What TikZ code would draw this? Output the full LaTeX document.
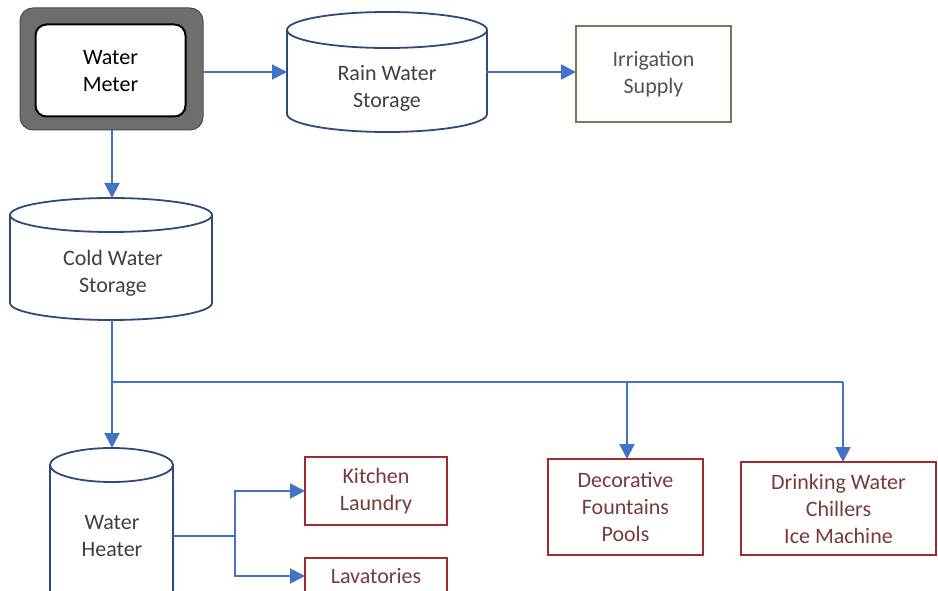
\documentclass[tikz,border=0pt]{standalone}
\usepackage{fontspec}
\setmainfont{Carlito}
\usetikzlibrary{arrows.meta}
\definecolor{flow}{HTML}{4472C4}
\definecolor{tankc}{HTML}{2E4A7A}
\definecolor{redb}{HTML}{9B2D30}
\definecolor{redt}{HTML}{7A3A3A}
\definecolor{greenb}{HTML}{6B7F4F}
\definecolor{txt}{HTML}{404040}
\tikzset{
  lbl/.style={align=center, font=\fontsize{22}{27}\selectfont, inner sep=0pt},
  tank/.style={shape=rectangle, inner sep=0pt, outer sep=0pt},
  tankline/.style={draw=tankc, line width=1.8pt},
  redbox/.style={draw=redb, line width=2.2pt, fill=white, inner sep=0pt, outer sep=0pt, align=center,
     font=\fontsize{22}{27}\selectfont, text=redt},
  conn/.style={draw=flow, line width=2pt},
  arr/.style={conn, -{Triangle[length=15pt,width=15pt]}}
}
\newcommand\drawtank[3]{%
  \draw[tankline,fill=white] (#1.north) ellipse [x radius=#2pt, y radius=#3pt];
  \draw[tankline] (#1.north west) -- (#1.south west) arc[start angle=180,end angle=360,x radius=#2pt,y radius=#3pt] -- (#1.north east);
}
\begin{document}
\begin{tikzpicture}[x=1pt,y=-1pt]
\clip (0,0) rectangle (938,591);
\fill[white] (0,0) rectangle (938,591);

% Water meter
\node[draw=black!70, fill=black!57, rounded corners=13pt, line width=1pt,
      minimum width=183pt, minimum height=122pt, inner sep=0pt, outer sep=0pt] (meter) at (111.5,69) {};
\node[draw=black, fill=white, rounded corners=11pt, line width=2pt,
      minimum width=150pt, minimum height=92pt, inner sep=0pt] (meterin) at (110.5,70.5) {};
\node[lbl, text=black] (meterlbl) at (110.5,71) {Water\\Meter};

% Rain water storage
\node[tank, minimum width=200pt, minimum height=84pt] (rain) at (387,72) {};
\drawtank{rain}{100}{18}
\node[lbl, text=txt] (rainlbl) at (387,88) {Rain Water\\Storage};

% Irrigation supply
\node[draw=greenb, line width=2pt, minimum width=155pt, minimum height=96pt, inner sep=0pt, outer sep=0pt] (irr) at (653.5,74) {};
\node[lbl, text=txt!90] (irrlbl) at (653.5,74) {Irrigation\\Supply};

% Cold water storage
\node[tank, minimum width=202pt, minimum height=88pt] (cold) at (111,259) {};
\drawtank{cold}{101}{17}
\node[lbl, text=txt] (coldlbl) at (113,273) {Cold Water\\Storage};

% Water heater
\node[tank, minimum width=123pt, minimum height=145pt] (heater) at (111.5,537.5) {};
\drawtank{heater}{61.5}{17}
\node[lbl, text=txt] (heaterlbl) at (112,536) {Water\\Heater};

% Consumers
\node[redbox, minimum width=142pt, minimum height=68pt] (kitchen) at (376,491) {Kitchen\\Laundry};
\node[redbox, minimum width=142pt, minimum height=36pt] (lav) at (376,576) {Lavatories};
\node[redbox, minimum width=155pt, minimum height=96pt] (decor) at (625.5,507) {Decorative\\Fountains\\Pools};
\node[redbox, minimum width=195pt, minimum height=93pt] (drink) at (838.5,508.5) {Drinking Water\\Chillers\\Ice Machine};

% Connectors
\draw[arr] (meter.east |- rain.west) -- (rain.west);
\draw[arr] (rain.east) -- (rain.east -| irr.west);
\draw[arr] (112,130) coordinate (mbot) -- ([yshift=17pt]cold.north -| mbot);

\coordinate (bus) at (112,382);
\coordinate (d1) at (627,382);
\coordinate (d2) at (843,382);
\draw[conn] ([yshift=-17pt]cold.south -| bus) -- (bus) -- (d2);
\draw[arr] (bus) -- ([yshift=17pt]heater.north -| bus);
\draw[arr] (d1) -- (d1 |- decor.north);
\draw[arr] (d2) -- (d2 |- drink.north);

\coordinate (br) at (235,536);
\draw[conn] (heater.east |- br) -- (br);
\draw[arr] (br) |- (kitchen.west);
\draw[arr] (br) |- (lav.west);
\end{tikzpicture}
\end{document}
